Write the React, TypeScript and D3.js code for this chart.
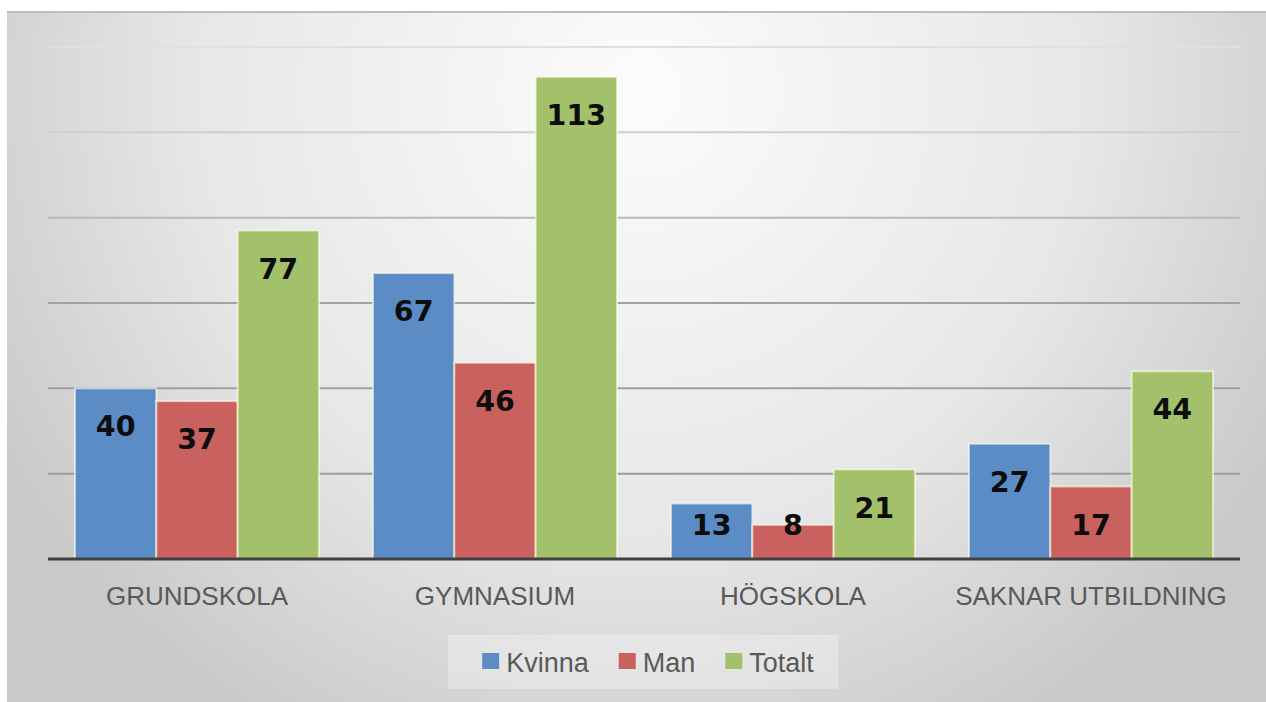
import React, { useEffect, useRef } from "react";
import * as d3 from "d3";

const categories = ["GRUNDSKOLA", "GYMNASIUM", "HÖGSKOLA", "SAKNAR UTBILDNING"];
const seriesNames = ["Kvinna", "Man", "Totalt"];
const kvinna = [40, 67, 13, 27];
const man = [37, 46, 8, 17];
const totalt = [77, 113, 21, 44];
const gridValues = [20, 40, 60, 80, 100, 120];
const seriesColors = ["#5b8cc6", "#c9625e", "#a3c16a"];

const W = 1266;
const H = 702;

export default function App() {
  const ref = useRef<SVGSVGElement | null>(null);

  useEffect(() => {
    const svg = d3.select(ref.current);
    svg.selectAll("*").remove();

    const defs = svg.append("defs");
    const rg = defs
      .append("radialGradient")
      .attr("id", "bg")
      .attr("gradientUnits", "userSpaceOnUse")
      .attr("cx", 640)
      .attr("cy", 90)
      .attr("r", 740);
    rg.append("stop").attr("offset", 0).attr("stop-color", "#fcfcfc");
    rg.append("stop").attr("offset", 0.6).attr("stop-color", "#e7e7e7");
    rg.append("stop").attr("offset", 1).attr("stop-color", "#c9c9c9");

    svg.append("rect").attr("x", 0).attr("y", 0).attr("width", W).attr("height", H).attr("fill", "#ffffff");
    svg
      .append("rect")
      .attr("x", 7)
      .attr("y", 12)
      .attr("width", W - 7)
      .attr("height", H - 12)
      .attr("fill", "url(#bg)");
    svg
      .append("line")
      .attr("x1", 7)
      .attr("x2", W)
      .attr("y1", 12)
      .attr("y2", 12)
      .attr("stroke", "#bdbdbd")
      .attr("stroke-width", 2);

    const x0 = d3
      .scaleBand<string>()
      .domain(categories)
      .range([48, 1240])
      .paddingInner(0.181)
      .paddingOuter(0.0905);
    const x1 = d3.scaleBand<string>().domain(seriesNames).range([0, x0.bandwidth()]).padding(0);
    const y = d3.scaleLinear().domain([0, 120]).range([559, 47]);

    const gridColor = d3
      .scaleLinear<string>()
      .domain([20, 60, 100, 120])
      .range(["#9c9c9c", "#a2a2a2", "#cfcfcf", "#e0e0e0"]);

    svg
      .append("g")
      .selectAll("line")
      .data(gridValues)
      .join("line")
      .attr("x1", 48)
      .attr("x2", 1240)
      .attr("y1", (d) => y(d))
      .attr("y2", (d) => y(d))
      .attr("stroke", (d) => gridColor(d))
      .attr("stroke-width", 2);

    const values = [kvinna, man, totalt];
    const rows = categories.flatMap((c, i) =>
      seriesNames.map((s, j) => ({ c, s, v: values[j][i], color: seriesColors[j] }))
    );

    const g = svg.append("g");
    g.selectAll("rect")
      .data(rows)
      .join("rect")
      .attr("x", (d) => (x0(d.c) as number) + (x1(d.s) as number))
      .attr("y", (d) => y(d.v))
      .attr("width", x1.bandwidth())
      .attr("height", (d) => y(0) - y(d.v))
      .attr("fill", (d) => d.color)
      .attr("stroke", "rgba(255,255,240,0.6)")
      .attr("stroke-width", 2);

    g.selectAll("text")
      .data(rows)
      .join("text")
      .attr("x", (d) => (x0(d.c) as number) + (x1(d.s) as number) + x1.bandwidth() / 2)
      .attr("y", (d) => Math.min(y(d.v) + 37.6, 524) + 10.5)
      .attr("text-anchor", "middle")
      .attr("font-family", "DejaVu Sans")
      .attr("font-weight", "bold")
      .attr("font-size", 28.5)
      .attr("fill", "#0d0d0d")
      .text((d) => String(d.v));

    // axis baseline
    svg
      .append("line")
      .attr("x1", 48)
      .attr("x2", 1240)
      .attr("y1", y(0))
      .attr("y2", y(0))
      .attr("stroke", "#404040")
      .attr("stroke-width", 3);

    svg
      .append("g")
      .selectAll("text")
      .data(categories)
      .join("text")
      .attr("x", (d) => (x0(d) as number) + x0.bandwidth() / 2)
      .attr("y", 605)
      .attr("text-anchor", "middle")
      .attr("font-family", "Liberation Sans")
      .attr("font-size", 26)
      .attr("fill", "#595959")
      .text((d) => d);

    // legend
    const lg = svg.append("g");
    lg.append("rect")
      .attr("x", 448)
      .attr("y", 635)
      .attr("width", 390)
      .attr("height", 54)
      .attr("fill", "rgba(255,255,255,0.3)");

    const items = lg.append("g");
    let cx = 0;
    seriesNames.forEach((name, i) => {
      const it = items.append("g").attr("transform", `translate(${cx},0)`);
      it.append("rect").attr("x", 0).attr("y", 653).attr("width", 17).attr("height", 16).attr("fill", seriesColors[i]);
      const t = it
        .append("text")
        .attr("x", 24)
        .attr("y", 672)
        .attr("font-family", "Liberation Sans")
        .attr("font-size", 27)
        .attr("fill", "#595959")
        .text(name);
      const tw = (t.node() as SVGTextElement).getComputedTextLength();
      cx += 24 + tw + 30;
    });
    const total = cx - 30;
    items.attr("transform", `translate(${648 - total / 2},0)`);
  }, []);

  return (
    <svg
      ref={ref}
      width={W}
      height={H}
      style={{ position: "absolute", left: 0, top: 0, display: "block" }}
    />
  );
}
